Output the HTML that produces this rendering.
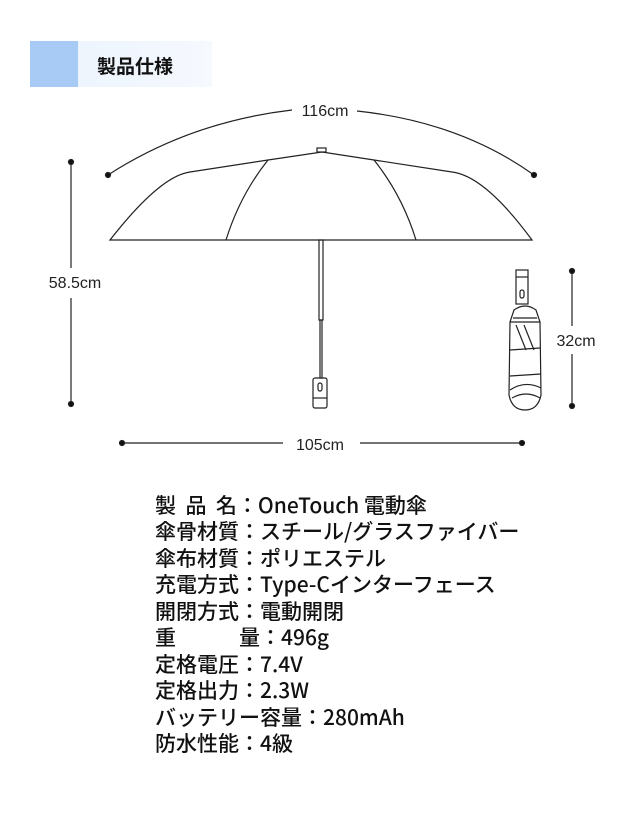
<!DOCTYPE html>
<html><head><meta charset="utf-8"><style>
body{margin:0;width:640px;height:816px;background:#fff;position:relative;overflow:hidden;font-family:"Liberation Sans","Noto Sans CJK JP",sans-serif;color:#111}
.t{position:absolute;left:155px;font-size:21px;line-height:26px;white-space:nowrap;font-family:"Noto Sans CJK JP","Liberation Sans",sans-serif;font-weight:500}
</style></head><body>
<div style="position:absolute;left:30px;top:41px;width:182px;height:46px;background:linear-gradient(90deg,#eaf3fd,#f6f9fe)"></div>
<div style="position:absolute;left:30px;top:41px;width:48px;height:46px;background:#a7cbf5"></div>
<div style="position:absolute;left:97px;top:52px;font-size:19px;font-weight:bold;font-family:'Noto Sans CJK JP',sans-serif">製品仕様</div>
<svg width="640" height="460" style="position:absolute;left:0;top:0" fill="none" stroke="#222" stroke-width="1.2">
<path d="M108,175 Q190,122 292,110"/><path d="M357,111 Q460,122 534,175"/>
<circle cx="108" cy="175" r="2.5" fill="#111"/><circle cx="534" cy="175" r="2.5" fill="#111"/>
<text x="325" y="116" font-size="16" fill="#222" stroke="none" text-anchor="middle" font-family="Liberation Sans">116cm</text>
<path d="M110,240 Q160,176 190,172 L268,160 L322,152 L374,160 L452,172 Q485,176 532,240 Z"/>
<path d="M268,160 Q240,195 226,240"/><path d="M374,160 Q402,195 416,240"/>
<rect x="317" y="148" width="9" height="4"/>
<rect x="319" y="240" width="4" height="80"/><rect x="320" y="320" width="2" height="58"/>
<rect x="313" y="378" width="14" height="30" rx="2"/><rect x="318" y="383" width="4" height="8" rx="2"/><path d="M313,398 H327"/>
<line x1="71" y1="162" x2="71" y2="268"/><line x1="71" y1="298" x2="71" y2="404"/>
<circle cx="71" cy="162" r="2.5" fill="#111"/><circle cx="71" cy="404" r="2.5" fill="#111"/>
<text x="75" y="288" font-size="16" fill="#222" stroke="none" text-anchor="middle" font-family="Liberation Sans">58.5cm</text>
<line x1="122" y1="443" x2="283" y2="443"/><line x1="360" y1="443" x2="522" y2="443"/>
<circle cx="122" cy="443" r="2.5" fill="#111"/><circle cx="522" cy="443" r="2.5" fill="#111"/>
<text x="320" y="450" font-size="16" fill="#222" stroke="none" text-anchor="middle" font-family="Liberation Sans">105cm</text>
<rect x="516" y="270" width="12" height="34"/><path d="M516,277 H528"/><rect x="520" y="290" width="4" height="8" rx="2"/>
<path d="M514,310 Q525,302 536,310 L540,322 L541,395 Q538,410 525,410 Q512,410 509,395 L510,322 Z"/>
<path d="M510,322 H540 M513,318 H537"/><path d="M510,350 L540,348 M510,376 L541,374"/>
<path d="M516,325 L526,350 M524,325 L534,350"/><path d="M510,390 Q525,380 541,388 M512,398 Q526,390 540,398"/>
<line x1="572" y1="271" x2="572" y2="326"/><line x1="572" y1="354" x2="572" y2="406"/>
<circle cx="572" cy="271" r="2.5" fill="#111"/><circle cx="572" cy="406" r="2.5" fill="#111"/>
<text x="576" y="346" font-size="16" fill="#222" stroke="none" text-anchor="middle" font-family="Liberation Sans">32cm</text>
</svg>
<div class="t" style="top:492px">製&nbsp;&nbsp;品&nbsp;&nbsp;名：OneTouch 電動傘</div>
<div class="t" style="top:518px">傘骨材質：スチール/グラスファイバー</div>
<div class="t" style="top:545px">傘布材質：ポリエステル</div>
<div class="t" style="top:571px">充電方式：Type-Cインターフェース</div>
<div class="t" style="top:598px">開閉方式：電動開閉</div>
<div class="t" style="top:624px">重<span style="display:inline-block;width:63px"></span>量：496g</div>
<div class="t" style="top:651px">定格電圧：7.4V</div>
<div class="t" style="top:677px">定格出力：2.3W</div>
<div class="t" style="top:704px">バッテリー容量：280mAh</div>
<div class="t" style="top:730px">防水性能：4級</div>
</body></html>
